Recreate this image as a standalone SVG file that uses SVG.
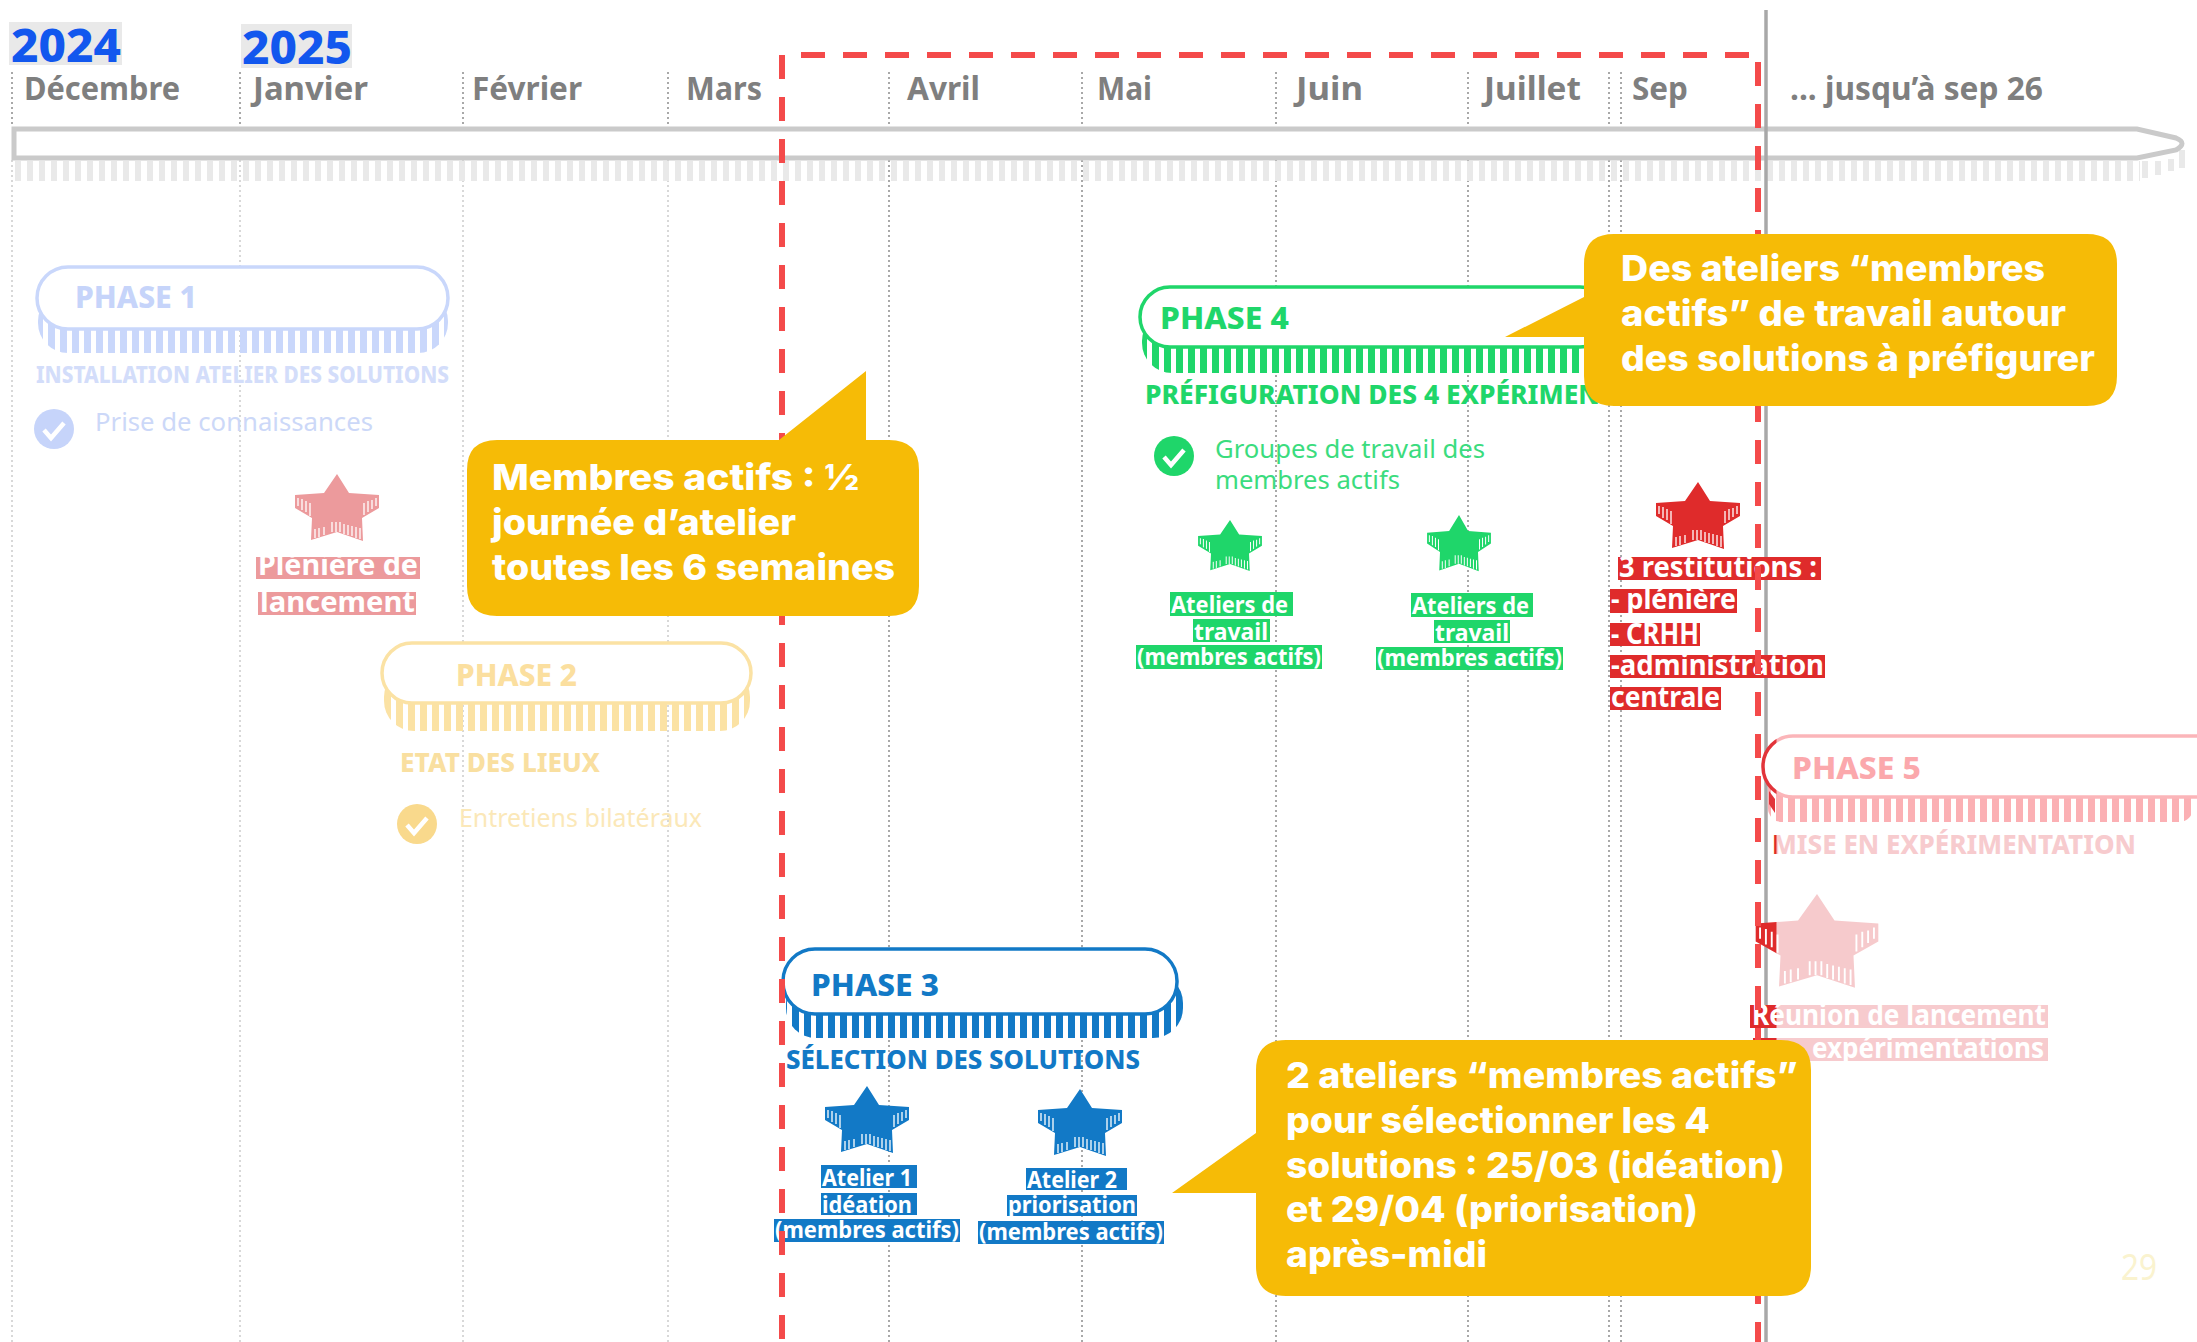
<svg xmlns="http://www.w3.org/2000/svg" xmlns:xlink="http://www.w3.org/1999/xlink" width="2197" height="1342" viewBox="0 0 2197 1342">
<style>
text{font-family:"Noto Sans","Liberation Sans",sans-serif}
.yr{font-size:47px;font-weight:800;fill:#1257ee}
.mo{font-size:33px;font-weight:700;fill:#7f7f7f}
.ph{font-size:30px;font-weight:800}
.sub{font-size:23px;font-weight:800}
.sub2{font-size:26px;font-weight:800}
.bd{font-size:26px;font-weight:400}
.lb{font-size:24px;font-weight:700;fill:#fff}
.lb2{font-size:28px;font-weight:700;fill:#fff}
.co{font-family:Inter,"Liberation Sans",sans-serif;font-size:36px;font-weight:800;fill:#fff}
.pill{fill:#fff;stroke-width:3.5}
.dash{stroke:#f44a4a;stroke-width:6;stroke-dasharray:24 18;fill:none}
.grid{stroke:#a8a8a8;stroke-width:2;stroke-dasharray:2 3}
.gridf{stroke:#d8d8d8;stroke-width:2;stroke-dasharray:2 3}
.call{fill:#f6bb06}
.chk{fill:none;stroke:#fff;stroke-width:4.5}
</style>
<defs>
<pattern id="t1" patternUnits="userSpaceOnUse" width="12" height="8"><rect width="7" height="8" fill="#c9d7fb"/></pattern>
<pattern id="t2" patternUnits="userSpaceOnUse" width="12" height="8"><rect width="7" height="8" fill="#fbe2a4"/></pattern>
<pattern id="t3" patternUnits="userSpaceOnUse" width="12" height="8"><rect width="7" height="8" fill="#1279c6"/></pattern>
<pattern id="t4" patternUnits="userSpaceOnUse" width="12" height="8"><rect width="7" height="8" fill="#1fd66a"/></pattern>
<pattern id="t5" patternUnits="userSpaceOnUse" width="12" height="8"><rect width="7" height="8" fill="#fbb0b4"/></pattern>
<linearGradient id="g5a" gradientUnits="userSpaceOnUse" x1="1776" x2="1777" y1="0" y2="0"><stop offset="0" stop-color="#e2343a"/><stop offset="1" stop-color="#fbb5b9"/></linearGradient>
<linearGradient id="g5b" gradientUnits="userSpaceOnUse" x1="1776" x2="1777" y1="0" y2="0"><stop offset="0" stop-color="#df2b2b"/><stop offset="1" stop-color="#f7cbce"/></linearGradient>
<linearGradient id="g5s" gradientUnits="userSpaceOnUse" x1="-28" x2="-27.5" y1="0" y2="0"><stop offset="0" stop-color="#df2b2b"/><stop offset="1" stop-color="#f6cacc"/></linearGradient>
<g id="star">
<polygon points="0,0 12,19 42,21 42,34 25,44 26,67 0,58 -26,66 -25,44 -42,34 -42,21 -13,19"/>
<path d="M-39 24V32M-35 25V36M-31 27V38M-27 29V42M39 24V32M35 26V35M31 27V38M27 29V41M-22 55V64M-18 54V63M-13 53V61M-5 48V58M-1 48V58M3 48V58M7 50V60M11 51V61M15 52V62M19 53V64M23 54V65" fill="none" stroke="#fff" stroke-width="1.3"/>
</g>
</defs>
<rect width="2197" height="1342" fill="#fff"/>

<g id="grid">
<path class="grid" d="M12 72V127M240 72V127M463 72V127M668 72V127M889 72V127M1082 72V127M1276 72V127M1468 72V127M1609 72V127M1621 72V127"/>
<path class="gridf" d="M12 160V1342M240 160V1342M463 160V1342M668 160V1342"/>
<path class="grid" d="M889 160V1342M1082 160V1342M1276 160V1342M1468 160V1342M1609 160V1342M1621 160V1342"/>
</g>

<g id="timeline">
<line x1="15" y1="171" x2="2140" y2="171" stroke="#e9e9e9" stroke-width="20" stroke-dasharray="6 6"/>
<path d="M2145 161V178M2158 161V175M2171 159V171M2182 150V168" stroke="#e9e9e9" stroke-width="6" fill="none"/>
<path d="M14 129H2137L2176 138Q2188 143 2176 150L2137 158H14Z" fill="#fff" stroke="#cacaca" stroke-width="5"/>
</g>

<line id="now-line" x1="1766" y1="10" x2="1766" y2="1342" stroke="#a8a8a8" stroke-width="3.5"/>

<g id="header">
<rect x="9" y="22" width="113" height="43" fill="#e9e9e9"/>
<rect x="241" y="24" width="111" height="44" fill="#e9e9e9"/>
<text class="yr" x="11" y="62" textLength="110" lengthAdjust="spacingAndGlyphs">2024</text>
<text class="yr" x="242" y="64" textLength="110" lengthAdjust="spacingAndGlyphs">2025</text>
<text class="mo" x="24" y="100" textLength="156" lengthAdjust="spacingAndGlyphs">Décembre</text>
<text class="mo" x="253" y="100" textLength="115" lengthAdjust="spacingAndGlyphs">Janvier</text>
<text class="mo" x="472" y="100" textLength="110" lengthAdjust="spacingAndGlyphs">Février</text>
<text class="mo" x="686" y="100" textLength="76" lengthAdjust="spacingAndGlyphs">Mars</text>
<text class="mo" x="907" y="100" textLength="73" lengthAdjust="spacingAndGlyphs">Avril</text>
<text class="mo" x="1097" y="100" textLength="55" lengthAdjust="spacingAndGlyphs">Mai</text>
<text class="mo" x="1296" y="100" textLength="67" lengthAdjust="spacingAndGlyphs">Juin</text>
<text class="mo" x="1484" y="100" textLength="97" lengthAdjust="spacingAndGlyphs">Juillet</text>
<text class="mo" x="1632" y="100" textLength="56" lengthAdjust="spacingAndGlyphs">Sep</text>
<text class="mo" x="1790" y="100" textLength="253" lengthAdjust="spacingAndGlyphs">... jusqu’à sep 26</text>
</g>

<g id="phase-1">
<rect x="38" y="291" width="410" height="62" rx="30" fill="url(#t1)"/>
<rect class="pill" x="37" y="267" width="411" height="62" rx="31" stroke="#c9d7fb"/>
<text class="ph" x="75" y="308" fill="#c6d4fa" textLength="122" lengthAdjust="spacingAndGlyphs">PHASE 1</text>
<text class="sub" x="36" y="383" fill="#d3ddfa" textLength="413" lengthAdjust="spacingAndGlyphs">INSTALLATION ATELIER DES SOLUTIONS</text>
<circle cx="54" cy="429" r="20" fill="#c6d4fa"/><path class="chk" d="M44 430l7 8 13-15"/>
<text class="bd" x="95" y="431" fill="#ccd8f8" textLength="278" lengthAdjust="spacingAndGlyphs">Prise de connaissances</text>
</g>

<g id="pleniere">
<use href="#star" transform="translate(337 474)" fill="#ec9a9c"/>
<rect x="256" y="557" width="164" height="22" fill="#ec9a9c"/>
<rect x="258" y="592" width="158" height="23" fill="#ec9a9c"/>
<text class="lb2" x="258" y="575" textLength="160" lengthAdjust="spacingAndGlyphs">Plénière de</text>
<text class="lb2" x="260" y="612" textLength="155" lengthAdjust="spacingAndGlyphs">lancement</text>
</g>

<g id="phase-2">
<rect x="384" y="667" width="366" height="64" rx="30" fill="url(#t2)"/>
<rect class="pill" x="382" y="643" width="369" height="60" rx="30" stroke="#fbe2a4"/>
<text class="ph" x="456" y="686" fill="#fbdf9f" textLength="121" lengthAdjust="spacingAndGlyphs">PHASE 2</text>
<text class="sub2" x="400" y="772" fill="#f9dfa0" textLength="200" lengthAdjust="spacingAndGlyphs">ETAT DES LIEUX</text>
<circle cx="417" cy="824" r="20" fill="#f9d98c"/><path class="chk" d="M407 825l7 8 13-15"/>
<text class="bd" x="459" y="827" fill="#fbe8b8" textLength="243" lengthAdjust="spacingAndGlyphs">Entretiens bilatéraux</text>
</g>

<g id="phase-3">
<rect x="786" y="973" width="397" height="65" rx="30" fill="url(#t3)"/>
<rect class="pill" x="783" y="949" width="394" height="65" rx="32" stroke="#1279c6"/>
<text class="ph" x="811" y="996" fill="#1279c6" textLength="128" lengthAdjust="spacingAndGlyphs">PHASE  3</text>
<text class="sub2" x="786" y="1069" fill="#1279c6" textLength="354" lengthAdjust="spacingAndGlyphs">SÉLECTION DES SOLUTIONS</text>
</g>
<g id="atelier-1">
<use href="#star" transform="translate(867 1086)" fill="#1279c6"/>
<rect x="821" y="1165" width="96" height="23" fill="#1279c6"/><rect x="821" y="1193" width="96" height="22" fill="#1279c6"/><rect x="774" y="1219" width="186" height="23" fill="#1279c6"/>
<text class="lb" x="822" y="1186" textLength="90" lengthAdjust="spacingAndGlyphs">Atelier 1</text>
<text class="lb" x="822" y="1213" textLength="90" lengthAdjust="spacingAndGlyphs">idéation</text>
<text class="lb" x="775" y="1238" textLength="184" lengthAdjust="spacingAndGlyphs">(membres actifs)</text>
</g>
<g id="atelier-2">
<use href="#star" transform="translate(1080 1089)" fill="#1279c6"/>
<rect x="1026" y="1168" width="101" height="22" fill="#1279c6"/><rect x="1007" y="1195" width="130" height="21" fill="#1279c6"/><rect x="978" y="1221" width="186" height="23" fill="#1279c6"/>
<text class="lb" x="1027" y="1188" textLength="90" lengthAdjust="spacingAndGlyphs">Atelier 2</text>
<text class="lb" x="1008" y="1213" textLength="128" lengthAdjust="spacingAndGlyphs">priorisation</text>
<text class="lb" x="979" y="1240" textLength="184" lengthAdjust="spacingAndGlyphs">(membres actifs)</text>
</g>

<g id="phase-4">
<rect x="1142" y="311" width="470" height="62" rx="30" fill="url(#t4)"/>
<rect class="pill" x="1140" y="287" width="470" height="60" rx="30" stroke="#1fd66a"/>
<text class="ph" x="1160" y="329" fill="#1fd66a" textLength="129" lengthAdjust="spacingAndGlyphs">PHASE  4</text>
<text class="sub2" x="1145" y="404" fill="#1fd66a" textLength="455" lengthAdjust="spacingAndGlyphs">PRÉFIGURATION DES 4 EXPÉRIMEN</text>
<circle cx="1174" cy="456" r="20" fill="#1fd66a"/><path class="chk" d="M1164 457l7 8 13-15"/>
<text class="bd" x="1215" y="458" fill="#3bdc7e" textLength="270" lengthAdjust="spacingAndGlyphs">Groupes de travail des</text>
<text class="bd" x="1215" y="489" fill="#3bdc7e" textLength="185" lengthAdjust="spacingAndGlyphs">membres actifs</text>
</g>
<g id="atelier-travail-1">
<use href="#star" transform="translate(1230 520) scale(.76)" fill="#1fd66a"/>
<rect x="1170" y="592" width="123" height="24" fill="#1fd66a"/><rect x="1193" y="619" width="77" height="23" fill="#1fd66a"/><rect x="1136" y="645" width="186" height="24" fill="#1fd66a"/>
<text class="lb" x="1171" y="613" textLength="117" lengthAdjust="spacingAndGlyphs">Ateliers de</text>
<text class="lb" x="1194" y="640" textLength="74" lengthAdjust="spacingAndGlyphs">travail</text>
<text class="lb" x="1137" y="665" textLength="184" lengthAdjust="spacingAndGlyphs">(membres actifs)</text>
</g>
<g id="atelier-travail-2">
<use href="#star" transform="translate(1459 515) scale(.76 .84)" fill="#1fd66a"/>
<rect x="1411" y="593" width="122" height="24" fill="#1fd66a"/><rect x="1434" y="620" width="76" height="23" fill="#1fd66a"/><rect x="1376" y="647" width="187" height="23" fill="#1fd66a"/>
<text class="lb" x="1412" y="614" textLength="117" lengthAdjust="spacingAndGlyphs">Ateliers de</text>
<text class="lb" x="1435" y="641" textLength="74" lengthAdjust="spacingAndGlyphs">travail</text>
<text class="lb" x="1377" y="666" textLength="185" lengthAdjust="spacingAndGlyphs">(membres actifs)</text>
</g>

<g id="restitutions">
<use href="#star" transform="translate(1698 482)" fill="#df2b2b"/>
<rect x="1618" y="557" width="203" height="23" fill="#df2b2b"/><rect x="1610" y="589" width="127" height="24" fill="#df2b2b"/><rect x="1610" y="623" width="90" height="23" fill="#df2b2b"/><rect x="1610" y="655" width="215" height="23" fill="#df2b2b"/><rect x="1610" y="687" width="111" height="23" fill="#df2b2b"/>
<text class="lb2" x="1619" y="577" textLength="198" lengthAdjust="spacingAndGlyphs">3 restitutions :</text>
<text class="lb2" x="1611" y="609" textLength="125" lengthAdjust="spacingAndGlyphs">- plénière</text>
<text class="lb2" x="1611" y="644" textLength="88" lengthAdjust="spacingAndGlyphs">- CRHH</text>
<text class="lb2" x="1611" y="675" textLength="213" lengthAdjust="spacingAndGlyphs">-administration</text>
<text class="lb2" x="1611" y="707" textLength="109" lengthAdjust="spacingAndGlyphs">centrale</text>
</g>

<g id="phase-5">
<rect x="1768" y="761" width="425" height="61" rx="14" fill="url(#t5)"/>
<path d="M1769 791l6 8v14l-6-9z" fill="#e2343a"/>
<rect x="1763" y="736" width="470" height="61" rx="30" fill="#fff" stroke="url(#g5a)" stroke-width="3.5"/>
<text class="ph" x="1792" y="779" fill="#fba8ac" textLength="129" lengthAdjust="spacingAndGlyphs">PHASE  5</text>
<text class="sub2" x="1772" y="854" fill="url(#g5b)" textLength="364" lengthAdjust="spacingAndGlyphs">MISE EN EXPÉRIMENTATION</text>
</g>
<g id="reunion">
<use href="#star" transform="translate(1817 894) scale(1.46 1.4)" fill="url(#g5s)"/>
<rect x="1750" y="1005" width="298" height="23" fill="url(#g5b)"/><rect x="1753" y="1038" width="295" height="23" fill="url(#g5b)"/>
<text class="lb2" x="1752" y="1025" textLength="294" lengthAdjust="spacingAndGlyphs">Réunion de lancement</text>
<text class="lb2" x="1812" y="1058" textLength="232" lengthAdjust="spacingAndGlyphs">expérimentations</text>
</g>

<g id="scope-frame">
<line class="dash" x1="782" y1="55" x2="782" y2="1342"/>
<line class="dash" x1="1758" y1="62" x2="1758" y2="1342"/>
<line class="dash" x1="801" y1="55" x2="1750" y2="55"/>
</g>

<g id="callout-1">
<path class="call" d="M497 440H779L866 371V440H889Q919 440 919 470V586Q919 616 889 616H497Q467 616 467 586V470Q467 440 497 440Z"/>
<text class="co" x="492" y="490" textLength="367" lengthAdjust="spacingAndGlyphs">Membres actifs :  ½</text>
<text class="co" x="492" y="535" textLength="304" lengthAdjust="spacingAndGlyphs">journée d’atelier</text>
<text class="co" x="492" y="580" textLength="403" lengthAdjust="spacingAndGlyphs">toutes les 6 semaines</text>
</g>
<g id="callout-3">
<path class="call" d="M1286 1040H1781Q1811 1040 1811 1070V1266Q1811 1296 1781 1296H1286Q1256 1296 1256 1266V1193H1172L1256 1133V1070Q1256 1040 1286 1040Z"/>
<text class="co" x="1286" y="1088" textLength="512" lengthAdjust="spacingAndGlyphs">2 ateliers “membres actifs”</text>
<text class="co" x="1286" y="1133" textLength="424" lengthAdjust="spacingAndGlyphs">pour sélectionner les 4</text>
<text class="co" x="1286" y="1178" textLength="499" lengthAdjust="spacingAndGlyphs">solutions : 25/03 (idéation)</text>
<text class="co" x="1286" y="1222" textLength="412" lengthAdjust="spacingAndGlyphs">et 29/04 (priorisation)</text>
<text class="co" x="1286" y="1267" textLength="201" lengthAdjust="spacingAndGlyphs">après-midi</text>
</g>
<g id="callout-4">
<path class="call" d="M1614 234H2087Q2117 234 2117 264V376Q2117 406 2087 406H1614Q1584 406 1584 376V337H1505L1584 297V264Q1584 234 1614 234Z"/>
<text class="co" x="1621" y="281" textLength="424" lengthAdjust="spacingAndGlyphs">Des ateliers “membres</text>
<text class="co" x="1621" y="326" textLength="445" lengthAdjust="spacingAndGlyphs">actifs” de travail autour</text>
<text class="co" x="1621" y="371" textLength="474" lengthAdjust="spacingAndGlyphs">des solutions à préfigurer</text>
</g>

<text id="page-number" x="2121" y="1280" font-size="36" fill="#faf3cf" textLength="36" lengthAdjust="spacingAndGlyphs">29</text>
</svg>
